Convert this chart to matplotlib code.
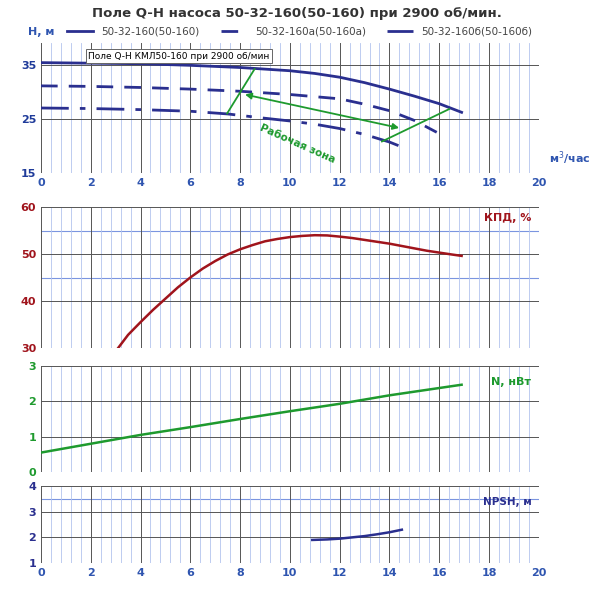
import numpy as np
import matplotlib
matplotlib.use("Agg")
import matplotlib.pyplot as plt

q_h = [0, 2, 4, 6, 8, 9, 10, 11, 12, 13, 14, 15, 16, 16.9]
h_main = [35.4, 35.3, 35.2, 34.9, 34.5, 34.2, 33.9, 33.4, 32.7, 31.7, 30.5, 29.2, 27.8, 26.2]
q_a = [0, 2, 4, 6, 8, 10, 12, 13, 14, 15, 15.9]
h_a = [31.1, 31.0, 30.8, 30.5, 30.1, 29.5, 28.7, 27.7, 26.5, 24.7, 22.5]
q_b = [0, 2, 4, 6, 7.5, 9, 10, 11, 12, 13, 14, 14.6]
h_b = [27.0, 26.9, 26.7, 26.4, 25.9, 25.1, 24.6, 24.0, 23.2, 22.1, 20.7, 19.6]
q_eff = [3.1, 3.5, 4, 4.5, 5, 5.5, 6, 6.5, 7, 7.5, 8, 8.5, 9, 9.5, 10, 10.5, 11, 11.5, 12,
         12.5, 13, 13.5, 14, 14.5, 15, 15.5, 16, 16.5, 16.9]
eff = [30, 32.8, 35.5, 38.1, 40.5, 42.9, 45, 46.9, 48.5, 49.9, 51, 51.9, 52.7, 53.2, 53.6,
       53.85, 54, 53.95, 53.7, 53.4, 53, 52.6, 52.2, 51.7, 51.2, 50.7, 50.3, 49.9, 49.6]
q_n = [0, 2, 4, 6, 8, 10, 12, 14, 16.9]
power = [0.55, 0.8, 1.05, 1.27, 1.5, 1.72, 1.93, 2.17, 2.47]
q_npsh = [10.9, 11.5, 12, 12.5, 13, 13.5, 14, 14.5]
npsh = [1.9, 1.92, 1.95, 2.0, 2.05, 2.12, 2.2, 2.3]

BLUE = "#1f3b9a"
NAVY = "#2a2f8f"
RED = "#a0141c"
GREEN = "#1e9a2e"
TICKB = "#2f55b0"

fig = plt.figure(figsize=(5.94, 6.0), dpi=100)
L, W = 0.069, 0.838

def setup(ax, ylim, major, color, minorx=0.4, xlabels=False):
    ax.set_xlim(0, 20)
    ax.set_ylim(*ylim)
    ax.set_xticks(np.arange(0, 21, 2))
    ax.set_xticks(np.arange(0, 20.01, minorx), minor=True)
    ax.set_yticks(major)
    ax.grid(True, which="major", color="#555555", lw=0.7)
    ax.grid(True, which="minor", axis="x", color="#b3c4ee", lw=0.6)
    ax.tick_params(which="both", length=0)
    ax.tick_params(axis="y", labelcolor=color, labelsize=8)
    ax.tick_params(axis="x", labelcolor=TICKB, labelsize=8)
    for lab in ax.get_yticklabels() + ax.get_xticklabels():
        lab.set_fontweight("bold")
    if not xlabels:
        ax.set_xticklabels([])
    for s in ax.spines.values():
        s.set_visible(False)
    ax.set_axisbelow(True)

ax1 = fig.add_axes([L, 0.712, W, 0.216])
setup(ax1, (15, 39), [15, 25, 35], BLUE, xlabels=True)
ax1.plot(q_h, h_main, color=NAVY, lw=2)
ax1.plot(q_a, h_a, color=NAVY, lw=2, dashes=(6, 4))
ax1.plot(q_b, h_b, color=NAVY, lw=2, dashes=(10, 4, 2, 4))
ax1.plot([8.58, 7.48], [34.2, 26.0], color=GREEN, lw=1.3)
ax1.plot([16.4, 13.7], [26.8, 20.8], color=GREEN, lw=1.3)
ax1.annotate("", xy=(8.09, 29.6), xytext=(14.5, 23.2),
             arrowprops=dict(arrowstyle="<|-|>", color=GREEN, lw=1.3, mutation_scale=9))
ax1.text(10.3, 20.3, "Рабочая зона", color=GREEN, fontsize=7.5, fontweight="bold",
         rotation=-24, ha="center", va="center")
ax1.text(0.0, 1.06, "Н, м", transform=ax1.transAxes, color=TICKB, fontsize=8,
         fontweight="bold", ha="center")
ax1.text(20.4, 16.8, "м$^3$/час", color=TICKB, fontsize=8, fontweight="bold", ha="left")
leg = ax1.legend(["50-32-160(50-160)", "50-32-160а(50-160а)", "50-32-160б(50-160б)"],
                 loc="lower center", bbox_to_anchor=(0.52, 1.0), ncol=3, frameon=False,
                 fontsize=7.5, handlelength=2.5, columnspacing=2.0, borderaxespad=0.2)
for t in leg.get_texts():
    t.set_color("#444444")
ax1.text(0.095, 0.9, "Поле Q-H КМЛ50-160 при 2900 об/мин", transform=ax1.transAxes,
         fontsize=6.5, va="center", bbox=dict(boxstyle="square,pad=0.3", fc="white",
                                               ec="#666666", lw=0.7))
fig.text(0.5, 0.978, "Поле Q-H насоса 50-32-160(50-160) при 2900 об/мин.",
         ha="center", va="center", fontsize=9.5, fontweight="bold", color="#333333")

ax2 = fig.add_axes([L, 0.42, W, 0.235])
setup(ax2, (30, 60), [30, 40, 50, 60], RED)
for y in (45, 55):
    ax2.axhline(y, color="#7b95e0", lw=0.8, zorder=0)
ax2.plot(q_eff, eff, color=RED, lw=1.8)
ax2.text(0.985, 0.9, "КПД, %", transform=ax2.transAxes, color=RED, fontsize=8,
         fontweight="bold", ha="right")

ax3 = fig.add_axes([L, 0.2133, W, 0.1767])
setup(ax3, (0, 3), [0, 1, 2, 3], GREEN)
ax3.plot(q_n, power, color=GREEN, lw=1.8)
ax3.text(0.985, 0.82, "N, нВт", transform=ax3.transAxes, color=GREEN, fontsize=8,
         fontweight="bold", ha="right")

ax4 = fig.add_axes([L, 0.0617, W, 0.128])
setup(ax4, (1, 4), [1, 2, 3, 4], NAVY, xlabels=True)
ax4.axhline(3.5, color="#7b95e0", lw=0.8, zorder=0)
ax4.plot(q_npsh, npsh, color=NAVY, lw=1.8)
ax4.text(0.985, 0.75, "NPSH, м", transform=ax4.transAxes, color=NAVY, fontsize=7.5,
         fontweight="bold", ha="right")

fig.savefig("out.png", dpi=100, facecolor="white")
